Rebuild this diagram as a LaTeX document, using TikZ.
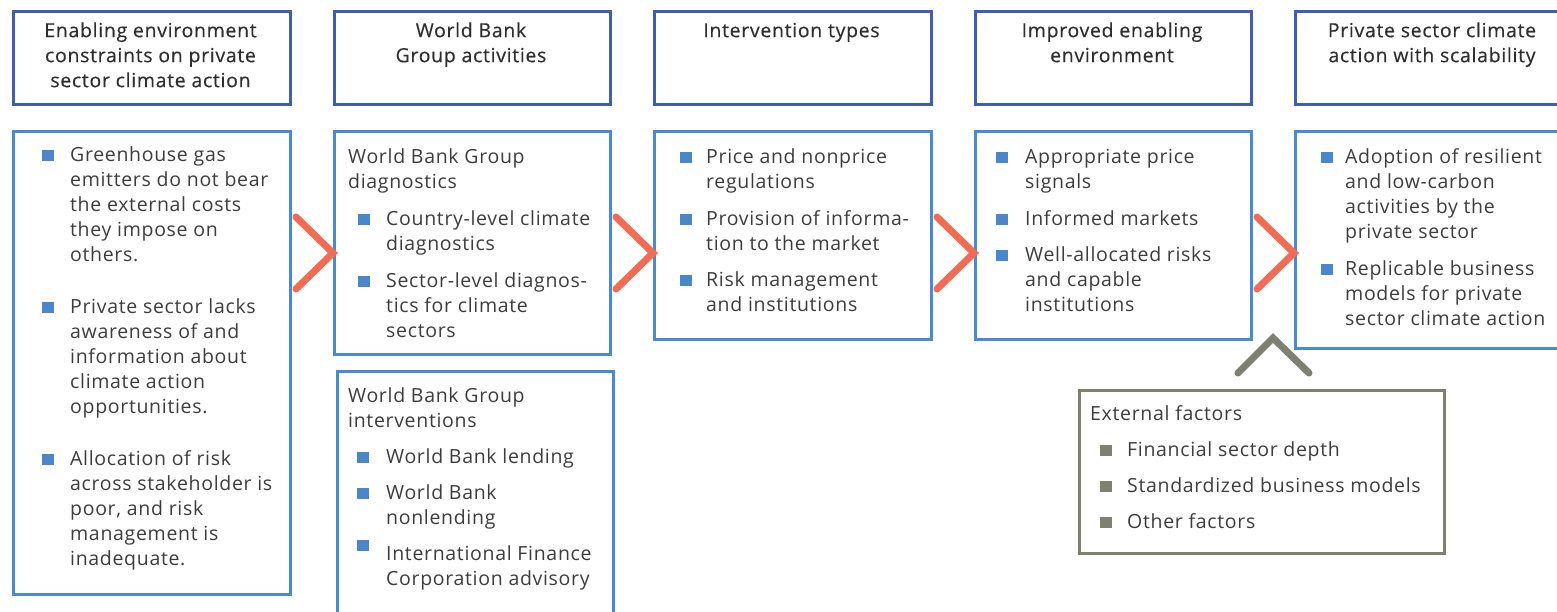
\documentclass[tikz,border=0pt]{standalone}
\usepackage{fontspec}
\setmainfont[LetterSpace=3.5]{Open Sans}
\newfontfamily\hdrfont[LetterSpace=3.5,FakeBold=0.3]{Open Sans}
\usetikzlibrary{calc}
\definecolor{hdrblue}{HTML}{3F5FAE}
\definecolor{boxblue}{HTML}{4A8BD0}
\definecolor{bulblue}{HTML}{4A86C8}
\definecolor{chevred}{HTML}{F26B55}
\definecolor{extgray}{HTML}{7E8171}
\definecolor{txtgray}{HTML}{3C3C3C}
\definecolor{hdrtxtc}{HTML}{2E2E2E}
\tikzset{
  hdrbox/.style={draw=hdrblue, line width=2.8pt, anchor=north west, inner sep=0pt, minimum height=93pt},
  bodybox/.style={draw=boxblue, line width=2.6pt, anchor=north west, inner sep=0pt},
  extbox/.style={draw=extgray, line width=2.6pt, anchor=north west, inner sep=0pt},
  hdrtxt/.style={font=\hdrfont\fontsize{19.5}{25}\selectfont, text=hdrtxtc, align=center, inner sep=0pt, anchor=north},
  txt/.style={font=\fontsize{19.5}{25}\selectfont, text=txtgray, align=left, inner sep=0pt, anchor=north west},
  bul/.style={fill=bulblue, minimum size=11.5pt, inner sep=0pt, outer sep=0pt},
  gbul/.style={fill=extgray, minimum size=11.5pt, inner sep=0pt, outer sep=0pt},
  chevline/.style={draw=chevred, line width=7pt, line cap=round, line join=miter},
  gchevline/.style={draw=extgray, line width=7pt, line cap=round, line join=miter},
}
% name, bullet style, bullet x, text x, first baseline, text
\newcommand\bitem[6]{%
  \node[txt] (#1) at (#4,#5-17.5) {\strut #6};
  \node[#2] (#1b) at (#3+5.75,#5-5.75) {};
}
\newcommand\chevto[1]{%
  \draw[chevline] ($(#1.north west)+(-37,87)$) -- ($(#1.north west)+(0,123)$) -- ($(#1.north west)+(-37,159)$);
}
\begin{document}
\begin{tikzpicture}[x=1pt,y=-1pt]
\useasboundingbox (0,0) rectangle (1557,611);
% headers
\node[hdrbox, minimum width=277pt] (h1) at (12,10) {};
\node[hdrbox, minimum width=276pt] (h2) at (333,10) {};
\node[hdrbox, minimum width=277pt] (h3) at (653,10) {};
\node[hdrbox, minimum width=276pt] (h4) at (974,10) {};
\node[hdrbox, minimum width=277pt] (h5) at (1294,10) {};
\node[hdrtxt] (h1t) at (150.5,19.5) {\strut Enabling environment\\constraints on private\\sector climate action};
\node[hdrtxt] (h2t) at (471,19.5) {\strut World Bank\\Group activities};
\node[hdrtxt] (h3t) at (791.5,19.5) {\strut Intervention types};
\node[hdrtxt] (h4t) at (1112,19.5) {\strut Improved enabling\\environment};
\node[hdrtxt] (h5t) at (1432,19.5) {\strut Private sector climate\\action with scalability};
% body boxes
\node[bodybox, minimum width=277pt, minimum height=463pt] (b1) at (12,130) {};
\node[bodybox, minimum width=276pt, minimum height=223pt] (b2) at (333,130) {};
\node[bodybox, minimum width=276pt, minimum height=260pt] (b2i) at (336,370) {};
\node[bodybox, minimum width=277pt, minimum height=208pt] (b3) at (653,130) {};
\node[bodybox, minimum width=276pt, minimum height=208pt] (b4) at (974,130) {};
\node[bodybox, minimum width=277pt, minimum height=217pt] (b5) at (1294,130) {};
\node[extbox, minimum width=365pt, minimum height=163pt] (ext) at (1078,389) {};
% chevrons
\chevto{b2}
\chevto{b3}
\chevto{b4}
\chevto{b5}
\draw[gchevline] ($(ext.north west)+(160,-16)$) -- ($(ext.north west)+(195,-51)$) -- ($(ext.north west)+(231,-16)$);
% box 1
\bitem{a1}{bul}{42}{70}{161}{Greenhouse gas\\emitters do not bear\\the external costs\\they impose on\\others.}
\bitem{a2}{bul}{42}{70}{313}{Private sector lacks\\awareness of and\\information about\\climate action\\opportunities.}
\bitem{a3}{bul}{42}{70}{465}{Allocation of risk\\across stakeholder is\\poor, and risk\\management is\\inadequate.}
% box 2
\node[txt] (d0) at (348,163-17.5) {\strut World Bank Group\\diagnostics};
\bitem{d1}{bul}{358}{386}{225}{Country-level climate\\diagnostics}
\bitem{d2}{bul}{358}{386}{287}{Sector-level diagnos-\\tics for climate\\sectors}
% box 2 interventions
\node[txt] (i0) at (348,402-17.5) {\strut World Bank Group\\interventions};
\bitem{i1}{bul}{357}{386}{463}{World Bank lending}
\bitem{i2}{bul}{357}{386}{499}{World Bank\\nonlending}
\node[txt] (i3) at (386,560-17.5) {\strut International Finance\\Corporation advisory};
\node[bul] (i3b) at (357+5.75,551-5.75) {};
% box 3
\bitem{t1}{bul}{680}{706}{163}{Price and nonprice\\regulations}
\bitem{t2}{bul}{680}{706}{225}{Provision of informa-\\tion to the market}
\bitem{t3}{bul}{680}{706}{286}{Risk management\\and institutions}
% box 4
\bitem{e1}{bul}{996}{1025}{163}{Appropriate price\\signals}
\bitem{e2}{bul}{996}{1025}{225}{Informed markets}
\bitem{e3}{bul}{996}{1025}{261}{Well-allocated risks\\and capable\\institutions}
% box 5
\bitem{p1}{bul}{1321}{1345}{163}{Adoption of resilient\\and low-carbon\\activities by the\\private sector}
\bitem{p2}{bul}{1321}{1345}{275}{Replicable business\\models for private\\sector climate action}
% external factors
\node[txt] (x0) at (1090,420-17.5) {\strut External factors};
\bitem{x1}{gbul}{1100}{1127}{456}{Financial sector depth}
\bitem{x2}{gbul}{1100}{1127}{492}{Standardized business models}
\bitem{x3}{gbul}{1100}{1127}{528}{Other factors}
\end{tikzpicture}
\end{document}
